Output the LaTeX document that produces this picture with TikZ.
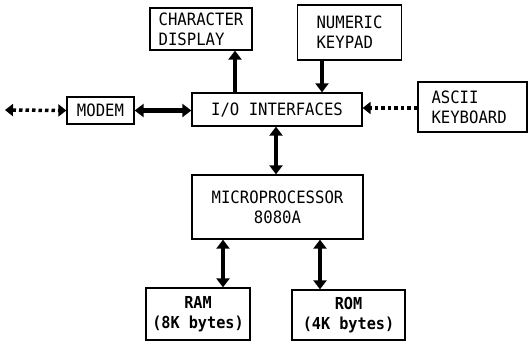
\documentclass[tikz,border=0pt]{standalone}
\usepackage{fontspec}
\setmonofont[FakeStretch=0.92]{DejaVu Sans Mono}
\usetikzlibrary{arrows.meta}
\begin{document}
\begin{tikzpicture}[x=1pt,y=-1pt,
  box/.style={draw, line width=1.3pt, inner sep=0pt, font=\ttfamily\fontsize{17}{20}\selectfont},
  bus/.style={line width=4.5pt, -{Triangle[length=9pt,width=13pt]}},
  busboth/.style={line width=4.5pt, {Triangle[length=9pt,width=13pt]}-{Triangle[length=9pt,width=13pt]}},
  dotbus/.style={line width=3.5pt, dash pattern=on 3.5pt off 3pt, -{Triangle[length=8pt,width=12pt]}},
  dotboth/.style={line width=3.5pt, dash pattern=on 3.5pt off 3pt, {Triangle[length=8pt,width=12pt]}-{Triangle[length=8pt,width=12pt]}}]
\useasboundingbox (0,0) rectangle (528,341);
\node[box, minimum width=102pt, minimum height=42pt, align=left] (char) at (201,29) {CHARACTER\\DISPLAY};
\node[box, minimum width=104pt, minimum height=55pt, align=left] (num) at (349.5,32.5) {NUMERIC\\KEYPAD};
\node[box, minimum width=170pt, minimum height=33pt] (io) at (277,109.5) {I/O INTERFACES};
\node[box, minimum width=67pt, minimum height=27pt] (modem) at (100.5,110.5) {MODEM};
\node[box, minimum width=109pt, minimum height=50pt, align=left, text width=82pt] (ascii) at (472.5,107) {ASCII\\KEYBOARD};
\node[box, minimum width=171pt, minimum height=64pt, align=center] (cpu) at (277.5,207) {MICROPROCESSOR\\8080A};
\node[box, minimum width=104pt, minimum height=52pt, align=center, font=\ttfamily\bfseries\fontsize{16.5}{20}\selectfont] (ram) at (198,314) {RAM\\(8K bytes)};
\node[box, minimum width=113pt, minimum height=50pt, align=center, font=\ttfamily\bfseries\fontsize{16.5}{20}\selectfont] (rom) at (348.5,315) {ROM\\(4K bytes)};
\coordinate (far) at (5,110);
% connectors
\draw[bus] (io.north -| 235,0) -- (char.south -| 235,0);
\draw[bus] (num.south -| 322,0) -- (io.north -| 322,0);
\draw[busboth] (modem.east) -- (modem.east -| io.west);
\draw[dotboth] (far) -- (modem.west);
\draw[dotbus] (ascii.west |- 0,108) -- (io.east |- 0,108);
\draw[busboth] (io.south -| 276,0) -- (cpu.north -| 276,0);
\draw[busboth] (cpu.south -| 223,0) -- (ram.north -| 223,0);
\draw[busboth] (cpu.south -| 320,0) -- (rom.north -| 320,0);
\end{tikzpicture}
\end{document}
